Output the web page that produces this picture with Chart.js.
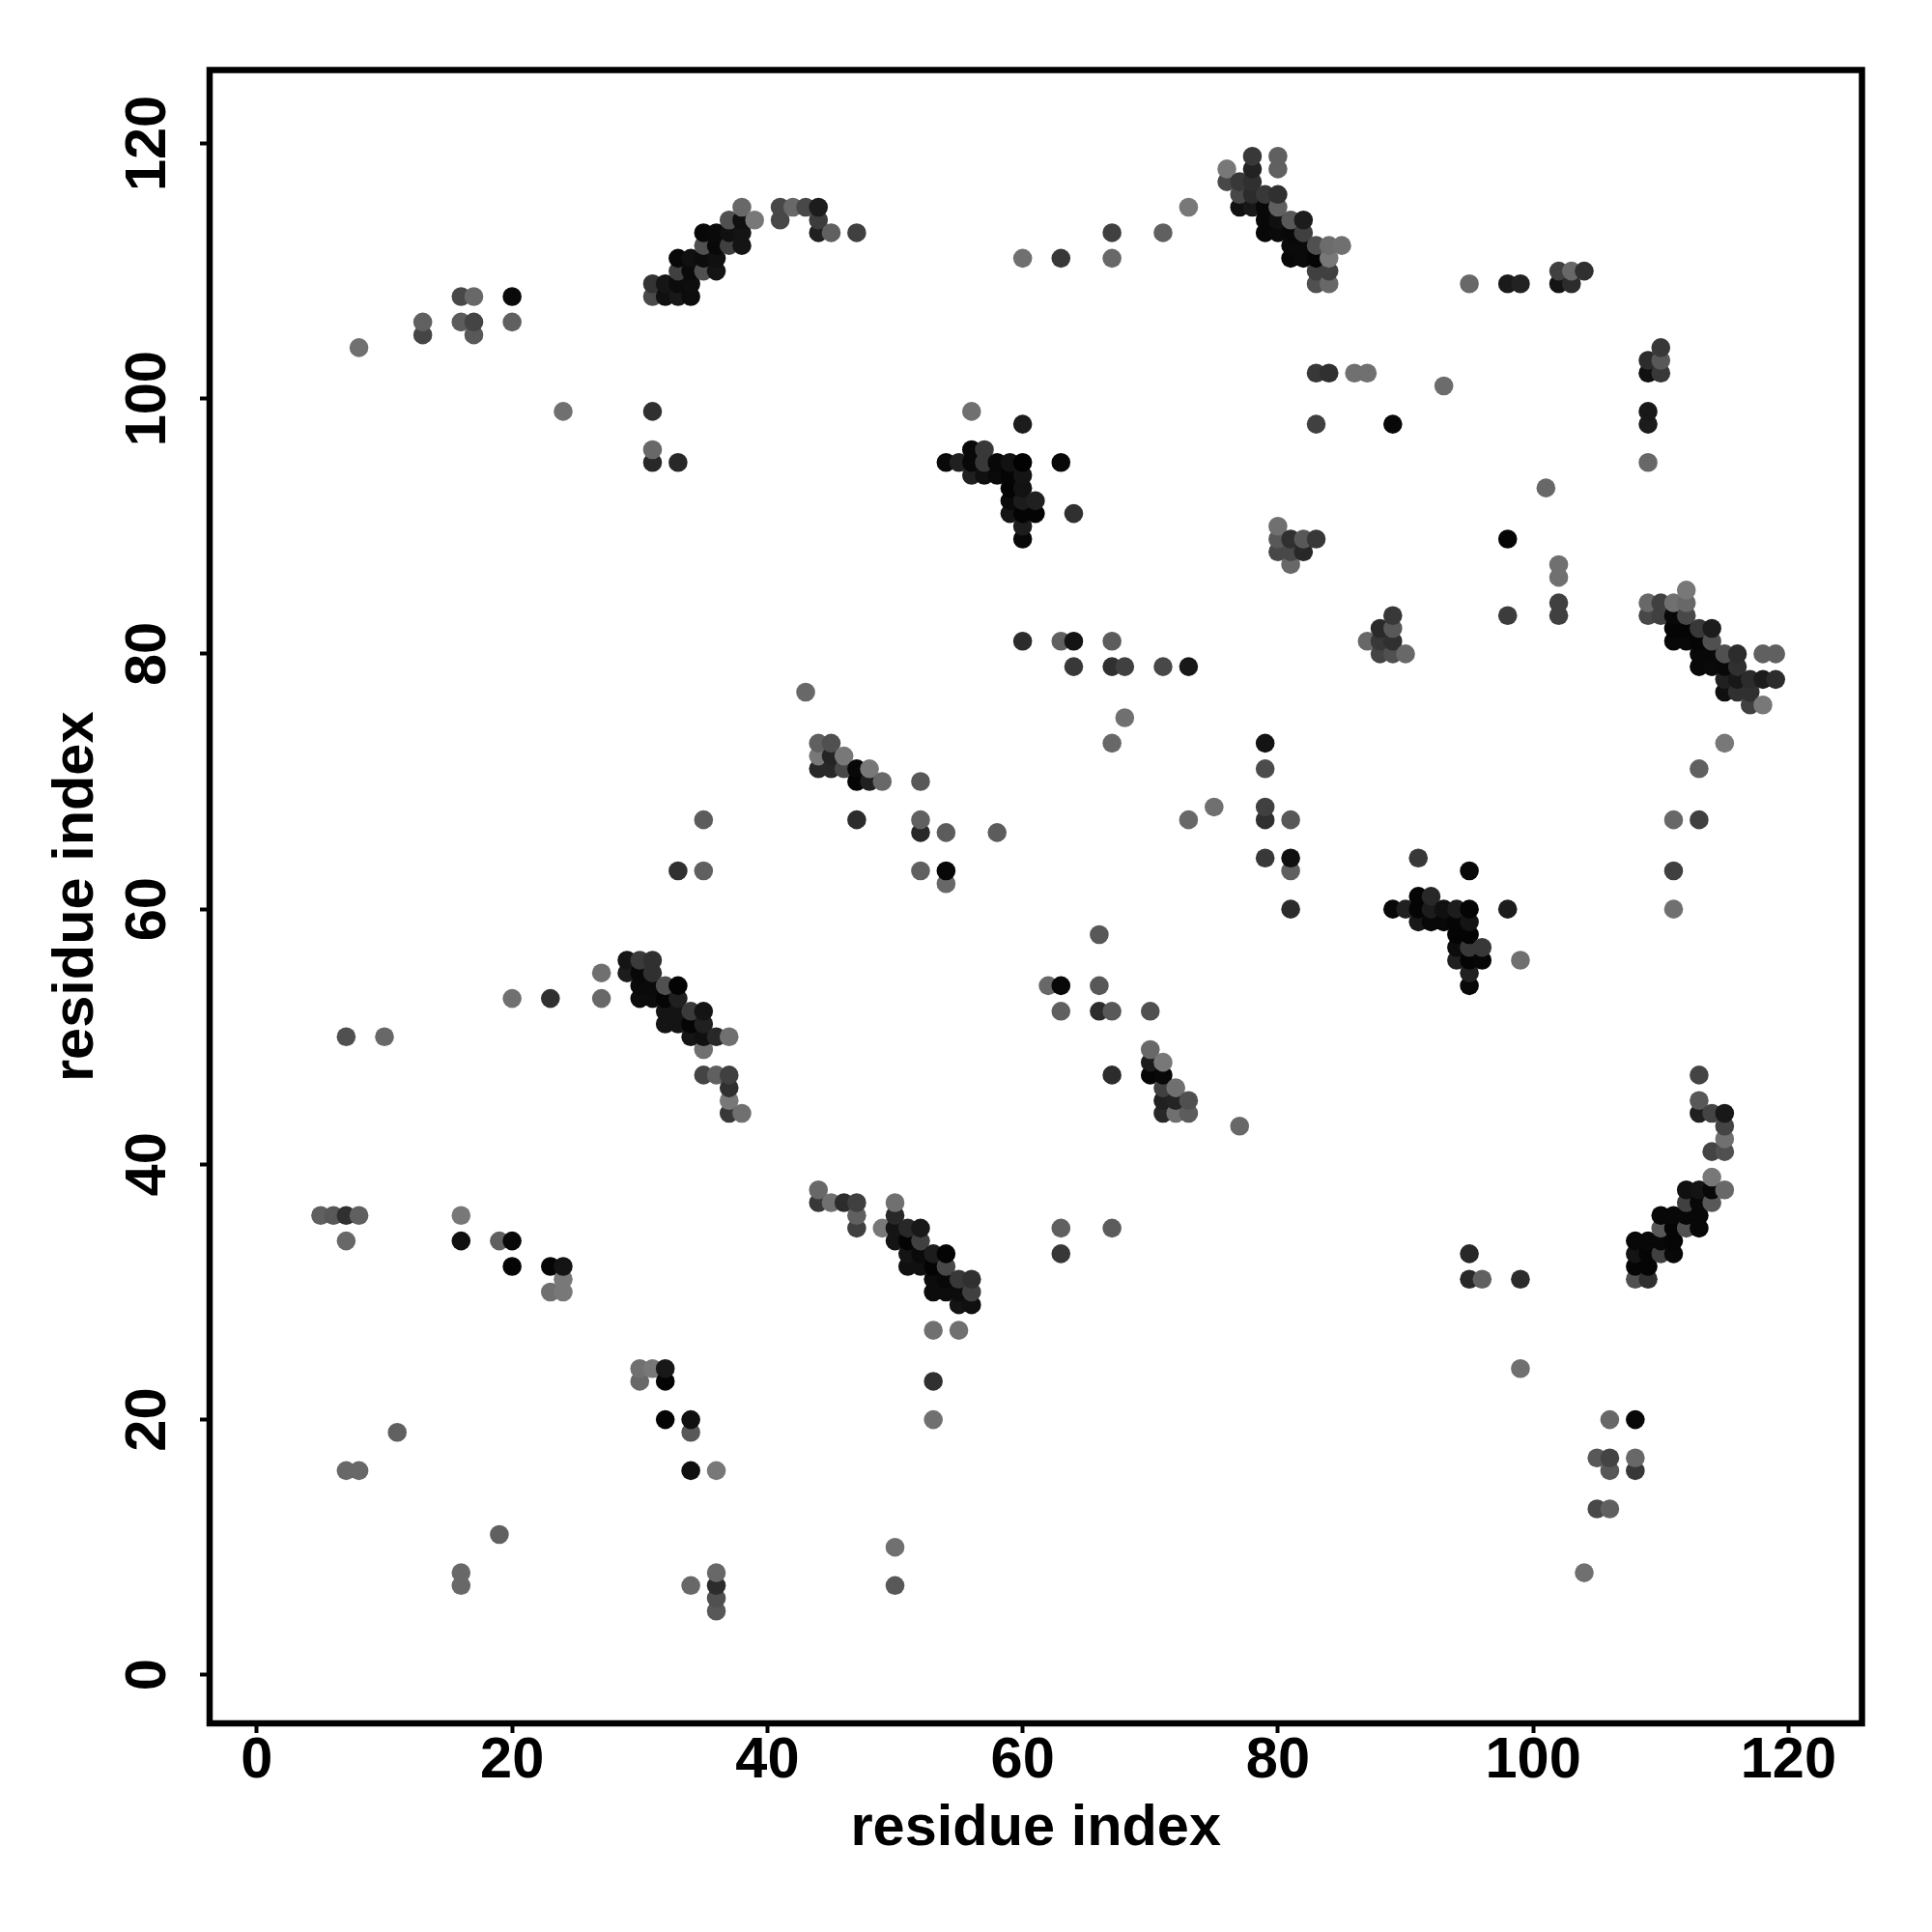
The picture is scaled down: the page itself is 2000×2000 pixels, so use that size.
<!DOCTYPE html>
<html>
<head>
<meta charset="utf-8">
<title>contact map</title>
<script src="https://cdn.jsdelivr.net/npm/chart.js@4"></script>
<style>
  html, body { margin: 0; padding: 0; background: #fff; }
  canvas { display: block; }
</style>
</head>
<body>
<canvas id="contactChart" width="2000" height="2000"></canvas>
<script>
const AXIS_LABEL = 'residue index';
const X_RANGE = [-3.70, 125.76];
const Y_RANGE = [-3.8, 125.75];
const TICK_STEP = 20;

// each contact is [residue x, residue y, grey level 0-255]
const upperLeft = [
  [8,104,0x70],[13,106,0x60],[13,105,0x45],[16,108,0x48],[17,108,0x68],[16,106,0x5c],[17,106,0x44],[17,105,0x58],
  [20,108,0x0a],[20,106,0x60],[24,99,0x70],[31,99,0x30],[31,96,0x68],[31,95,0x28],[33,95,0x28],
];
const helixTop = [
  [31,108,0x4a],[32,108,0x10],[33,108,0x18],[34,108,0x0c],[31,109,0x33],[32,109,0x15],[33,109,0x0c],[34,109,0x0e],
  [33,110,0x40],[34,110,0x0a],[35,110,0x50],[36,110,0x14],[33,111,0x08],[34,111,0x10],[35,111,0x0c],[36,111,0x10],
  [35,112,0x50],[36,112,0x08],[37,112,0x40],[38,112,0x14],[35,113,0x08],[36,113,0x0a],[37,113,0x10],[38,113,0x14],
  [37,114,0x50],[38,114,0x10],[39,114,0x78],[38,115,0x68],[41,115,0x48],[41,114,0x48],[42,115,0x68],[43,115,0x48],
  [44,115,0x1c],[44,114,0x3c],[44,113,0x20],[45,113,0x60],[47,113,0x40],
];
const topMiddle = [
  [60,111,0x70],[63,111,0x38],[67,111,0x68],[67,113,0x40],[71,113,0x60],[73,115,0x78],
];
const strandTop = [
  [78,119,0x38],[80,119,0x60],[76,118,0x78],[78,118,0x22],[80,118,0x60],[76,117,0x48],[77,117,0x38],[78,117,0x30],
  [77,116,0x48],[78,116,0x2c],[79,116,0x38],[80,116,0x30],[77,115,0x10],[78,115,0x18],[79,115,0x08],[80,115,0x60],
  [79,114,0x08],[80,114,0x10],[81,114,0x58],[82,114,0x1c],[79,113,0x08],[80,113,0x0a],[81,113,0x08],[82,113,0x40],
  [81,112,0x0a],[82,112,0x0a],[83,112,0x50],[84,112,0x6c],[85,112,0x70],[81,111,0x08],[82,111,0x0a],[83,111,0x05],
  [84,111,0x78],[83,110,0x40],[84,110,0x40],[83,109,0x50],[84,109,0x68],
];
const upperRight = [
  [95,109,0x68],[98,109,0x1a],[99,109,0x22],[102,109,0x14],[103,109,0x2c],[102,110,0x40],[103,110,0x68],[104,110,0x30],
  [110,104,0x38],[109,103,0x2c],[110,103,0x58],[109,102,0x10],[110,102,0x38],[109,99,0x18],[109,98,0x1c],[109,95,0x68],
  [83,102,0x38],[84,102,0x30],[86,102,0x70],[87,102,0x70],[93,101,0x6c],[83,98,0x40],[89,98,0x08],[101,93,0x68],
  [80,90,0x70],[80,89,0x58],[81,89,0x30],[82,89,0x58],[83,89,0x38],[80,88,0x48],[81,88,0x48],[82,88,0x28],[81,87,0x68],
  [98,89,0x05],[102,87,0x70],[102,86,0x70],[102,84,0x40],[102,83,0x40],[98,83,0x3c],
  [89,83,0x38],[88,82,0x2a],[89,82,0x58],[87,81,0x68],[88,81,0x38],[89,81,0x30],[88,80,0x44],[89,80,0x50],[90,80,0x68],
];
const strandRight = [
  [112,85,0x78],[109,84,0x68],[110,84,0x40],[111,84,0x70],[112,84,0x68],[109,83,0x48],[110,83,0x40],[111,83,0x08],
  [112,83,0x48],[111,82,0x05],[112,82,0x05],[113,82,0x38],[114,82,0x1c],[111,81,0x08],[112,81,0x08],[113,81,0x05],
  [114,81,0x50],[113,80,0x08],[114,80,0x08],[115,80,0x50],[116,80,0x2c],[118,80,0x60],[119,80,0x60],[113,79,0x08],
  [114,79,0x0a],[115,79,0x08],[116,79,0x30],[115,78,0x20],[116,78,0x18],[117,78,0x2c],[118,78,0x1c],[119,78,0x2c],
  [115,77,0x10],[116,77,0x30],[117,77,0x30],[117,76,0x40],[118,76,0x78],[115,73,0x78],[113,71,0x60],
  [111,67,0x68],[113,67,0x40],[111,63,0x40],[111,60,0x70],
];
const centreCross = [
  [56,99,0x70],[60,98,0x1c],[56,96,0x08],[57,96,0x38],[54,95,0x0a],[55,95,0x20],[56,95,0x08],[57,95,0x38],[58,95,0x08],
  [59,95,0x12],[60,95,0x02],[63,95,0x08],[56,94,0x20],[57,94,0x10],[58,94,0x0a],[59,94,0x05],[60,94,0x14],[59,93,0x04],
  [60,93,0x12],[59,92,0x0a],[60,92,0x1c],[61,92,0x20],[59,91,0x14],[60,91,0x04],[61,91,0x04],[64,91,0x30],[60,90,0x1c],
  [60,89,0x08],
];
const middleBand = [
  [43,77,0x68],[60,81,0x2c],[63,81,0x60],[64,81,0x14],[67,81,0x5c],[64,79,0x38],[67,79,0x30],[68,79,0x40],[71,79,0x48],
  [73,79,0x18],[68,75,0x70],[67,73,0x68],[79,73,0x14],[79,71,0x4c],
  [44,73,0x60],[45,73,0x50],[44,72,0x78],[45,72,0x24],[46,72,0x78],[44,71,0x28],[45,71,0x28],[46,71,0x48],[47,71,0x08],
  [48,71,0x78],[47,70,0x05],[48,70,0x20],[49,70,0x68],[47,67,0x2c],[35,67,0x5c],[33,63,0x30],[35,63,0x60],
  [52,70,0x58],[52,67,0x60],[52,66,0x28],[54,66,0x5c],[58,66,0x5c],[52,63,0x60],[54,63,0x08],[54,62,0x68],
  [73,67,0x68],[75,68,0x70],[79,68,0x40],[79,67,0x30],[81,67,0x58],[79,64,0x38],[81,64,0x10],[81,63,0x60],[81,60,0x2c],
];
const crossLower = [
  [91,64,0x38],[95,63,0x08],[91,61,0x05],[92,61,0x28],[89,60,0x08],[90,60,0x20],[91,60,0x05],[92,60,0x1c],[93,60,0x10],
  [94,60,0x1c],[95,60,0x04],[91,59,0x18],[92,59,0x08],[93,59,0x08],[94,59,0x05],[95,59,0x14],[94,58,0x04],[95,58,0x04],
  [94,57,0x0c],[95,57,0x38],[96,57,0x38],[94,56,0x20],[95,56,0x04],[96,56,0x06],[95,55,0x20],[95,54,0x08],[98,60,0x1c],
  [99,56,0x70],
];
const centreLower = [
  [66,58,0x58],[62,54,0x68],[63,54,0x08],[66,54,0x58],[63,52,0x60],[66,52,0x2c],[67,52,0x58],[70,52,0x50],[70,49,0x68],
  [70,48,0x1c],[71,48,0x78],[67,47,0x2c],[70,47,0x05],[71,47,0x08],[71,46,0x40],[72,46,0x70],[71,45,0x20],[72,45,0x24],
  [73,45,0x50],[71,44,0x28],[72,44,0x70],[73,44,0x5c],[77,43,0x68],
];
const strandLeft = [
  [29,56,0x14],[30,56,0x3a],[31,56,0x30],[27,55,0x70],[29,55,0x1c],[30,55,0x08],[31,55,0x30],[30,54,0x0a],[31,54,0x0a],
  [32,54,0x50],[33,54,0x04],[20,53,0x70],[23,53,0x30],[27,53,0x68],[30,53,0x0c],[31,53,0x0c],[32,53,0x05],[33,53,0x20],
  [32,52,0x14],[33,52,0x14],[34,52,0x3a],[35,52,0x14],[32,51,0x14],[33,51,0x14],[34,51,0x05],[35,51,0x20],[7,50,0x50],
  [10,50,0x68],[34,50,0x14],[35,50,0x10],[36,50,0x28],[37,50,0x70],[35,49,0x70],[35,47,0x44],[36,47,0x60],[37,47,0x40],
  [37,46,0x30],[37,45,0x78],[37,44,0x38],[38,44,0x70],
];
const lowerLeft = [
  [5,36,0x60],[6,36,0x58],[7,36,0x30],[8,36,0x60],[7,34,0x68],[16,36,0x78],[16,34,0x10],[19,34,0x60],[20,34,0x08],
  [20,32,0x05],[23,32,0x05],[24,32,0x14],[24,31,0x78],[23,30,0x70],[24,30,0x78],
  [30,24,0x70],[31,24,0x78],[32,24,0x18],[30,23,0x68],[32,23,0x04],[32,20,0x04],[34,20,0x10],[34,19,0x58],[34,16,0x10],
  [36,16,0x78],[7,16,0x68],[8,16,0x68],[11,19,0x60],[19,11,0x60],[16,8,0x68],[16,7,0x68],[34,7,0x68],[36,8,0x68],
  [36,7,0x2c],[36,6,0x50],[36,5,0x58],
];
const strandBottom = [
  [44,38,0x68],[44,37,0x38],[45,37,0x70],[46,37,0x2c],[47,37,0x40],[47,36,0x60],[47,35,0x40],
  [50,37,0x70],[50,36,0x28],[49,35,0x78],[50,35,0x14],[51,35,0x28],[52,35,0x18],[50,34,0x14],[51,34,0x04],[52,34,0x40],
  [51,33,0x14],[52,33,0x0a],[53,33,0x1c],[54,33,0x04],[51,32,0x10],[52,32,0x10],[53,32,0x04],[54,32,0x48],[53,31,0x0c],
  [54,31,0x08],[55,31,0x38],[56,31,0x30],[53,30,0x0c],[54,30,0x0c],[55,30,0x0c],[56,30,0x40],[55,29,0x14],[56,29,0x10],
  [53,27,0x70],[55,27,0x70],[53,23,0x30],[53,20,0x70],[50,10,0x70],[50,7,0x58],[63,35,0x60],[67,35,0x5c],[63,33,0x38],
];
const lowerRight = [
  [95,33,0x28],[95,31,0x28],[96,31,0x60],[99,31,0x2c],[99,24,0x70],[106,20,0x68],[108,20,0x08],[105,17,0x58],[106,17,0x44],
  [108,17,0x68],[106,16,0x58],[108,16,0x38],[105,13,0x48],[106,13,0x60],[104,8,0x70],
  [113,47,0x44],[113,45,0x58],[113,44,0x20],[114,44,0x44],[115,44,0x18],[115,43,0x44],[115,42,0x70],[114,41,0x44],
  [115,41,0x50],[114,39,0x78],[112,38,0x10],[113,38,0x14],[114,38,0x08],[115,38,0x68],[112,37,0x40],[113,37,0x08],
  [114,37,0x58],[110,36,0x08],[111,36,0x08],[112,36,0x08],[113,36,0x08],[110,35,0x58],[111,35,0x05],[112,35,0x50],
  [113,35,0x08],[108,34,0x08],[109,34,0x08],[110,34,0x08],[111,34,0x05],[108,33,0x14],[109,33,0x05],[110,33,0x40],
  [111,33,0x08],[108,32,0x05],[109,32,0x05],[108,31,0x50],[109,31,0x30],
];

const contacts = [
  ...upperLeft, ...helixTop, ...topMiddle, ...strandTop, ...upperRight, ...strandRight, ...centreCross,
  ...middleBand, ...crossLower, ...centreLower, ...strandLeft, ...lowerLeft, ...strandBottom, ...lowerRight,
].sort((a, b) => a[0] - b[0] || a[1] - b[1]);

const FONT = { family: '"Liberation Sans", Arial, sans-serif', size: 59.5, weight: 'bold' };

const boxPlugin = {
  id: 'box',
  afterDatasetsDraw(chart) {
    const { ctx, chartArea: a } = chart;
    ctx.save();
    ctx.strokeStyle = '#000';
    ctx.lineWidth = 6.5;
    ctx.strokeRect(a.left, a.top, a.right - a.left, a.bottom - a.top);
    ctx.restore();
  },
};

function axisOptions(range) {
  return {
    type: 'linear',
    min: range[0],
    max: range[1],
    border: { display: false },
    grid: { drawOnChartArea: false, drawTicks: true, tickLength: 10, tickWidth: 4, tickColor: '#000' },
    ticks: {
      stepSize: TICK_STEP,
      includeBounds: false,
      autoSkip: false,
      color: '#000',
      font: FONT,
      padding: -6,
      maxRotation: 0,
      minRotation: 0,
    },
    title: { display: true, text: AXIS_LABEL, color: '#000', font: FONT },
  };
}

const xAxis = axisOptions(X_RANGE);
xAxis.title.padding = { top: 0, bottom: 71 };
xAxis.afterFit = scale => { scale.height = 216; };

const yAxis = axisOptions(Y_RANGE);
yAxis.ticks.minRotation = 90;
yAxis.ticks.maxRotation = 90;
yAxis.ticks.crossAlign = 'center';
yAxis.ticks.padding = 3;
yAxis.title.padding = { top: 44, bottom: 0 };
yAxis.afterFit = scale => { scale.width = 217; };

new Chart(document.getElementById('contactChart'), {
  type: 'scatter',
  data: {
    datasets: [{
      data: contacts.map(c => ({ x: c[0], y: c[1] })),
      pointRadius: 9.8,
      pointBorderWidth: 0,
      pointBackgroundColor: contacts.map(c => `rgb(${c[2]},${c[2]},${c[2]})`),
    }],
  },
  options: {
    responsive: false,
    animation: false,
    devicePixelRatio: 1,
    layout: { autoPadding: false, padding: { top: 72.5, right: 72.5, bottom: 0, left: 0 } },
    plugins: { legend: { display: false }, tooltip: { enabled: false } },
    scales: { x: xAxis, y: yAxis },
  },
  plugins: [boxPlugin],
});
</script>
</body>
</html>
